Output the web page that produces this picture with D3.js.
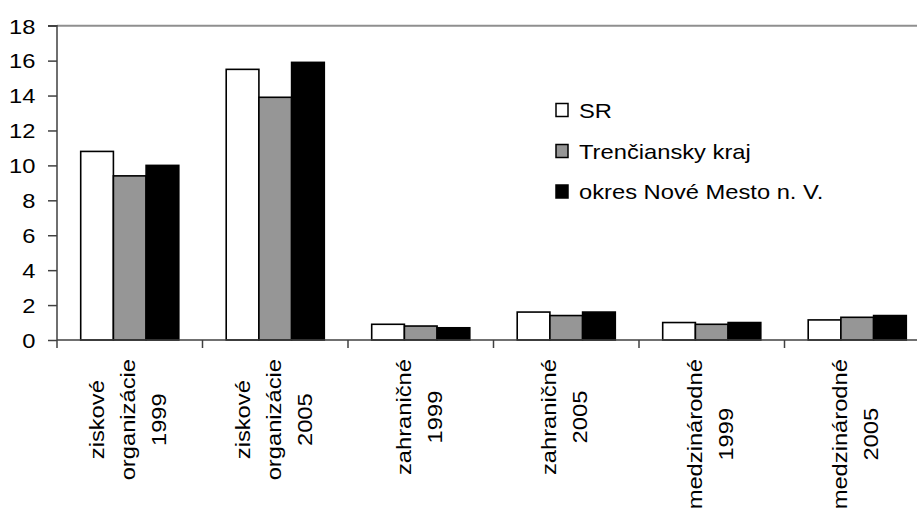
<!DOCTYPE html>
<html>
<head>
<meta charset="utf-8">
<script src="https://cdn.jsdelivr.net/npm/d3@7"></script>
<style>
  html, body { margin: 0; padding: 0; background: #fff; }
  svg { display: block; }
  text { font-family: "Liberation Sans", Arial, sans-serif; font-size: 21px; fill: #000; }
</style>
</head>
<body>
<script>
const categories = [
  ["ziskové", "organizácie", "1999"],
  ["ziskové", "organizácie", "2005"],
  ["zahraničné", "1999"],
  ["zahraničné", "2005"],
  ["medzinárodné", "1999"],
  ["medzinárodné", "2005"]
];
const seriesNames = ["SR", "Trenčiansky kraj", "okres Nové Mesto n. V."];
const srValues = [10.8, 15.5, 0.9, 1.6, 1.0, 1.15];
const trenciansky = [9.4, 13.9, 0.8, 1.4, 0.9, 1.3];
const okres = [10.0, 15.9, 0.7, 1.6, 1.0, 1.4];
const yTicks = [0, 2, 4, 6, 8, 10, 12, 14, 16, 18];
const seriesColors = ["#ffffff", "#969696", "#000000"];

const W = 917, H = 516;
const left = 57, step = 145.5;
const stretch = 1.13;
const svg = d3.select("body").append("svg").attr("width", W).attr("height", H);

const catKeys = categories.map((c, i) => i);
const x0 = d3.scaleBand().domain(catKeys).range([left, left + step * categories.length]).padding(0);
const x1 = d3.scaleBand().domain([0, 1, 2]).range([0, x0.bandwidth()]).paddingInner(0).paddingOuter(0.725);
const y = d3.scaleLinear().domain([0, 18]).range([340, 25.7]);

const seriesValues = [srValues, trenciansky, okres];

// top border line
svg.append("line")
  .attr("x1", left).attr("x2", W)
  .attr("y1", y(18)).attr("y2", y(18))
  .attr("stroke", "#8f8f8f").attr("stroke-width", 2);

// bars
const groups = svg.selectAll("g.cat").data(catKeys).join("g")
  .attr("class", "cat")
  .attr("transform", d => `translate(${x0(d)},0)`);
groups.selectAll("rect").data(ci => seriesValues.map((vals, si) => ({si, v: vals[ci]}))).join("rect")
  .attr("x", d => x1(d.si))
  .attr("width", x1.bandwidth())
  .attr("y", d => y(d.v))
  .attr("height", d => y(0) - y(d.v))
  .attr("fill", d => seriesColors[d.si])
  .attr("stroke", "#000")
  .attr("stroke-width", 1.6);

// Y axis
const yAxis = d3.axisLeft(y).tickValues(yTicks).tickSize(9).tickPadding(12).tickFormat(d3.format("d"));
const gy = svg.append("g").attr("transform", `translate(${left},0)`).call(yAxis);
gy.attr("font-size", null).attr("font-family", null);
gy.select(".domain").attr("stroke", "#404040").attr("stroke-width", 1.5).attr("d", `M-9,${y(18)}H0V${y(0)}`);
gy.selectAll(".tick line").attr("stroke", "#404040").attr("stroke-width", 1.5);
gy.selectAll(".tick text").attr("fill", "#000").attr("x", 0).attr("dy", "0.35em")
  .attr("transform", `translate(-21.5,0) scale(${stretch},1)`);

// X axis (line + ticks at category boundaries)
const boundaries = d3.range(categories.length + 1).map(i => left + i * step);
svg.append("line").attr("x1", left).attr("x2", W).attr("y1", y(0)).attr("y2", y(0))
  .attr("stroke", "#404040").attr("stroke-width", 1.5);
svg.selectAll("line.xt").data(boundaries).join("line").attr("class", "xt")
  .attr("x1", d => d).attr("x2", d => d).attr("y1", y(0)).attr("y2", y(0) + 8)
  .attr("stroke", "#404040").attr("stroke-width", 1.5);

// Category labels (rotated)
const labelTop = 359, lineGap = 31;
catKeys.forEach(ci => {
  const lines = categories[ci];
  const cx = x0(ci) + x0.bandwidth() / 2;
  const g = svg.append("g");
  const texts = lines.map((ln, i) => g.append("text").attr("text-anchor", "middle")
    .attr("y", 5.5 + (i - (lines.length - 1) / 2) * lineGap).text(ln));
  const maxLen = d3.max(texts, t => t.node().getComputedTextLength()) * stretch;
  g.attr("transform", `translate(${cx},${labelTop + maxLen / 2}) rotate(-90) scale(${stretch},1)`);
});

// Legend
const legend = svg.append("g");
const legendY = [110, 151, 191.5];
seriesNames.forEach((name, i) => {
  legend.append("rect").attr("x", 556).attr("y", legendY[i] - 6.5).attr("width", 12).attr("height", 13)
    .attr("fill", seriesColors[i]).attr("stroke", "#000").attr("stroke-width", 1.5);
  legend.append("g").attr("transform", `translate(579,${legendY[i]}) scale(${stretch},1)`)
    .append("text").attr("dy", "0.36em").text(name);
});
</script>
</body>
</html>
